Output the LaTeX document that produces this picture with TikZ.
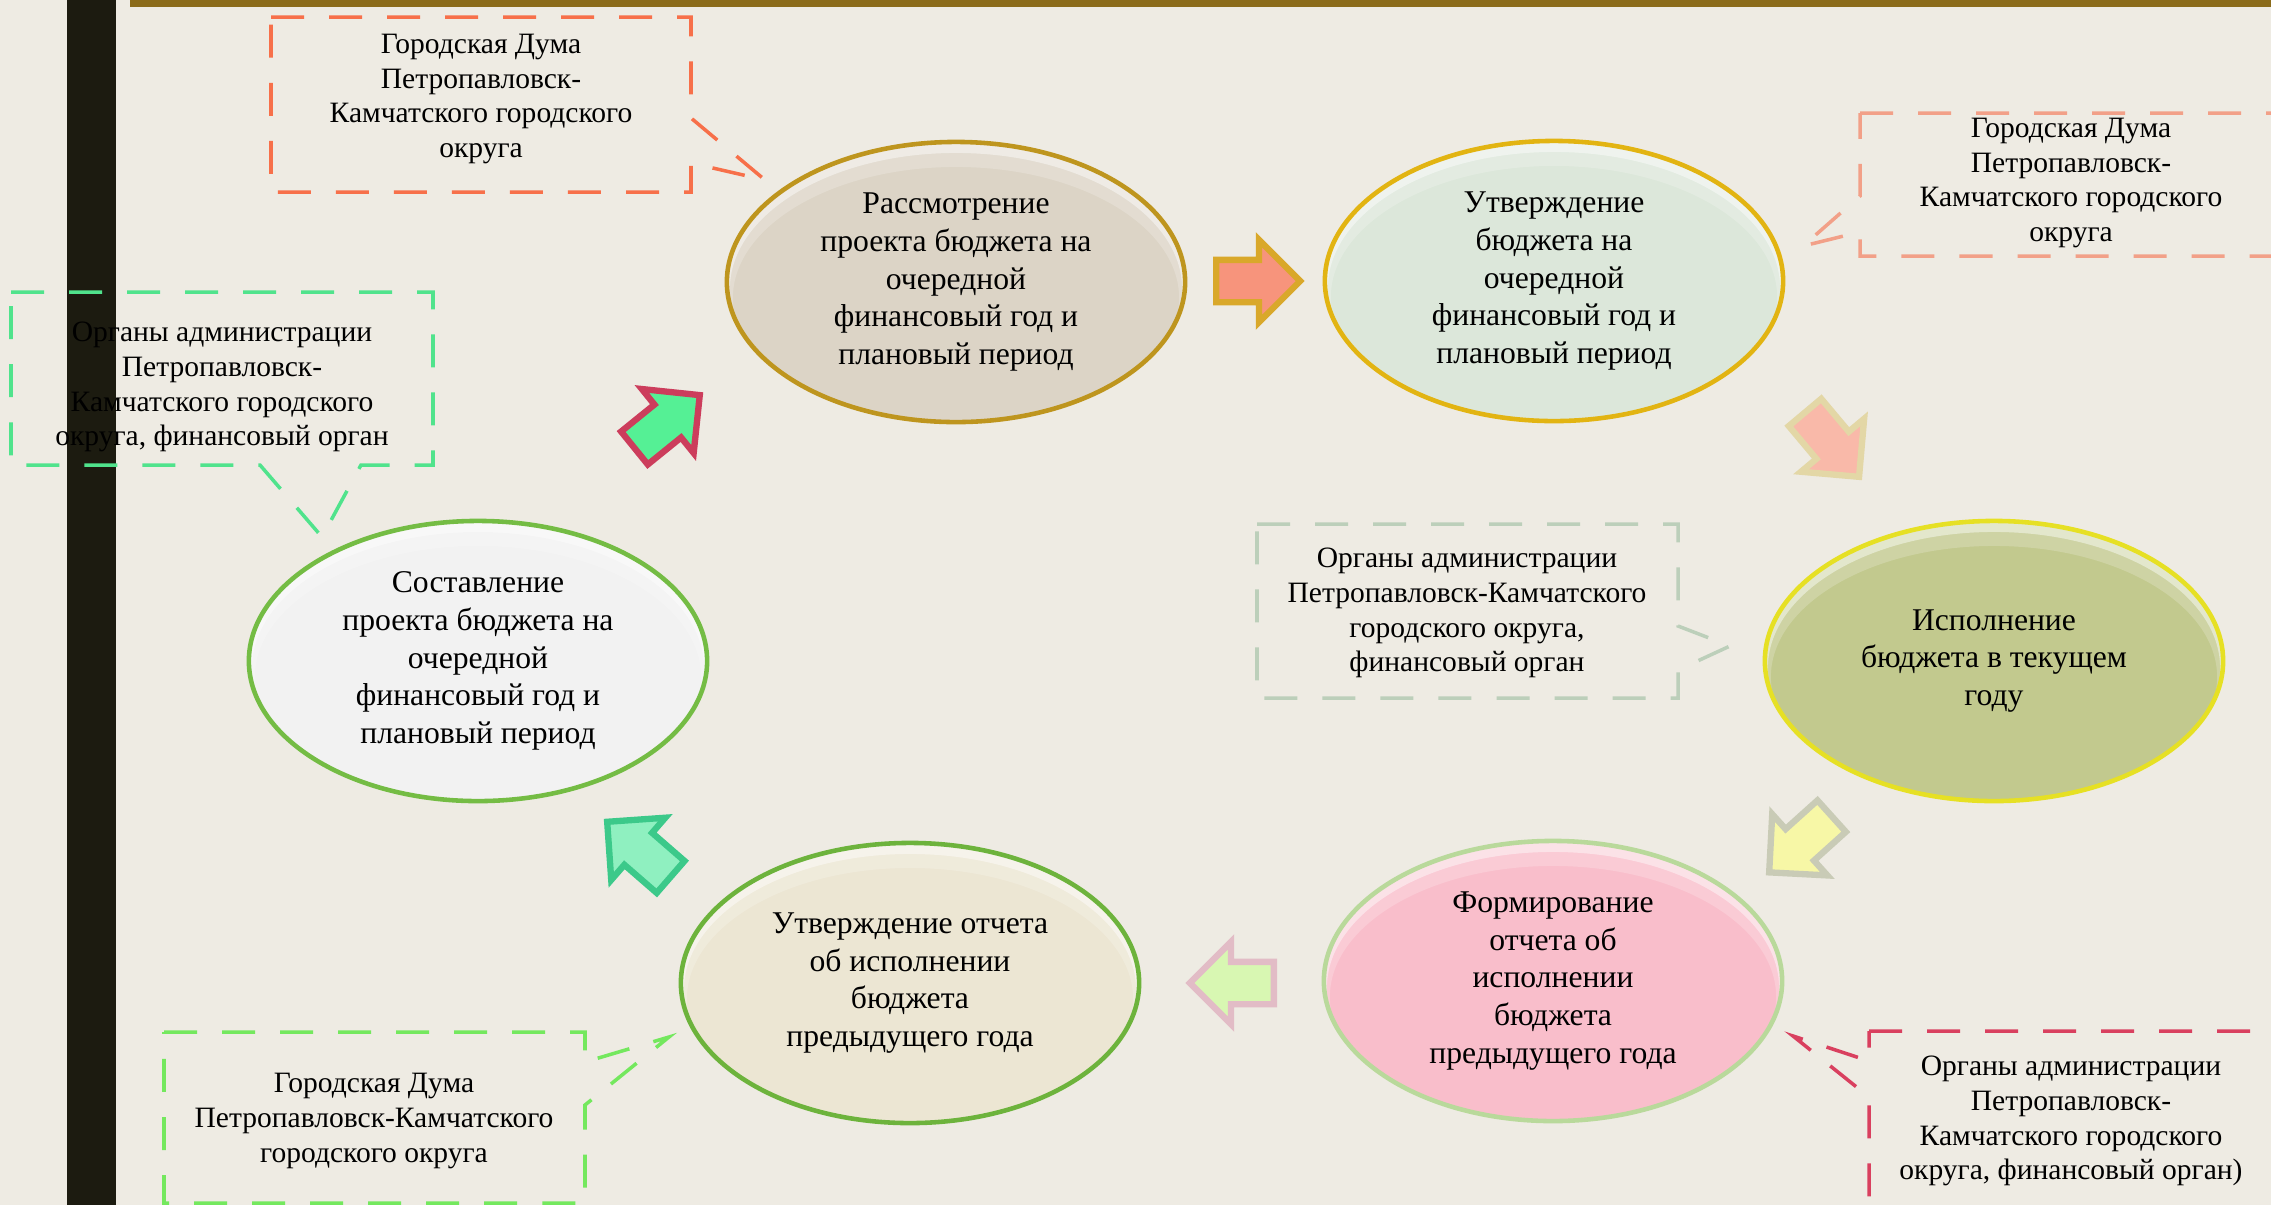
\documentclass[tikz,border=0pt]{standalone}
\usepackage{fontspec}
\setmainfont{Liberation Serif}
\newfontfamily\cyclefont{Liberation Serif}
\usepackage{tikz}
\usetikzlibrary{shapes.geometric, shapes.arrows}
\definecolor{bgcol}{HTML}{EEEBE3}
\definecolor{barcol}{HTML}{1C1B10}
\definecolor{topbar}{HTML}{8B6B1A}
% stages
\definecolor{eonefill}{HTML}{DCD4C6}  \definecolor{eoneline}{HTML}{BE951E}
\definecolor{etwofill}{HTML}{DCE7DA}  \definecolor{etwoline}{HTML}{E2B412}
\definecolor{ethreefill}{HTML}{C2C98E}\definecolor{ethreeline}{HTML}{E6E024}
\definecolor{efourfill}{HTML}{F9BECB} \definecolor{efourline}{HTML}{B9D99B}
\definecolor{efivefill}{HTML}{ECE6D3} \definecolor{efiveline}{HTML}{6DB33C}
\definecolor{esixfill}{HTML}{F2F2F2}  \definecolor{esixline}{HTML}{74BC44}
% notes
\definecolor{cone}{HTML}{F7704A}
\definecolor{ctwo}{HTML}{F2A088}
\definecolor{cthree}{HTML}{50E38C}
\definecolor{cfour}{HTML}{BCCFBA}
\definecolor{cfive}{HTML}{D9405F}
\definecolor{csix}{HTML}{74E85E}
% arrows
\definecolor{aonefill}{HTML}{F7947C}  \definecolor{aoneline}{HTML}{D9A82A}
\definecolor{atwofill}{HTML}{F9B9A9}  \definecolor{atwoline}{HTML}{E3D7A6}
\definecolor{athreefill}{HTML}{F7F7A6}\definecolor{athreeline}{HTML}{C9CBB6}
\definecolor{afourfill}{HTML}{D8F7B2} \definecolor{afourline}{HTML}{E2BCC6}
\definecolor{afivefill}{HTML}{8FF0C0} \definecolor{afiveline}{HTML}{3CC98A}
\definecolor{asixfill}{HTML}{55F095}  \definecolor{asixline}{HTML}{CC3D5C}

\begin{document}
\begin{tikzpicture}[x=0.01cm, y=-0.01cm,
  stage/.style={ellipse, minimum width=4.58cm, minimum height=2.80cm, inner sep=0pt,
    line width=1.3pt, align=center, font=\cyclefont\fontsize{9}{10.7}\selectfont,
    path picture={
      \fill[white, opacity=.45, even odd rule] (path picture bounding box.center) ellipse [x radius=2.3cm, y radius=1.41cm]
        ([yshift=-0.07cm]path picture bounding box.center) ellipse [x radius=2.26cm, y radius=1.36cm];
      \fill[white, opacity=.2, even odd rule] (path picture bounding box.center) ellipse [x radius=2.3cm, y radius=1.41cm]
        ([yshift=-0.16cm]path picture bounding box.center) ellipse [x radius=2.23cm, y radius=1.31cm];}},
  note/.style={align=center, inner sep=0pt, font=\cyclefont\fontsize{8.4}{9.9}\selectfont},
  notebox/.style={line width=1pt, dash pattern=on 0.33cm off 0.25cm},
  blockarrow/.style={single arrow, single arrow head extend=0.2cm, minimum width=0.8cm,
    minimum height=0.84cm, inner xsep=0pt, inner ysep=0.18cm, line width=1.8pt, line join=miter, anchor=tail}]

\useasboundingbox (0,0) rectangle (2271,1205);
\clip (0,0) rectangle (2271,1205);
\fill[bgcol] (0,0) rectangle (2271,1205);
\fill[topbar] (130,0) rectangle (2271,7);
\fill[barcol] (67,0) rectangle (116,1205);

% who does what
\coordinate (t1) at (765,180);
\coordinate (t2) at (1803,246);
\coordinate (t3) at (322,537);
\coordinate (t4) at (1730,646);
\coordinate (t5) at (1793,1036);
\coordinate (t6) at (669,1037);
\draw[notebox, cone] (271,17) -- (691,17) -- (691,118) -- (t1) -- (691,163) -- (691,192) -- (271,192) -- cycle;
\draw[notebox, ctwo] (1860,113) -- (2290,113) -- (2290,256) -- (1860,256) -- (1860,232) -- (t2) -- (1860,196) -- cycle;
\draw[notebox, cthree] (11,292) -- (433,292) -- (433,465) -- (361,465) -- (t3) -- (260,465) -- (11,465) -- cycle;
\draw[notebox, cfour] (1257,524) -- (1678,524) -- (1678,626) -- (t4) -- (1678,670) -- (1678,698) -- (1257,698) -- cycle;
\draw[notebox, cfive] (1869,1031) -- (2290,1031) -- (2290,1215) -- (1869,1215) -- (1869,1097) -- (t5) -- (1869,1061) -- cycle;
\draw[notebox, csix] (164,1032) -- (585,1032) -- (585,1062) -- (t6) -- (585,1105) -- (585,1203) -- (164,1203) -- cycle;

\node[note] (c1) at (481,99) {Городская Дума\\Петропавловск-\\Камчатского городского\\округа};
\node[note] (c2) at (2071,183) {Городская Дума\\Петропавловск-\\Камчатского городского\\округа};
\node[note] (c3) at (222,387) {Органы администрации\\Петропавловск-\\Камчатского городского\\округа, финансовый орган};
\node[note] (c4) at (1467,613) {Органы администрации\\Петропавловск-Камчатского\\городского округа,\\финансовый орган};
\node[note] (c5) at (2071,1121) {Органы администрации\\Петропавловск-\\Камчатского городского\\округа, финансовый орган)};
\node[note] (c6) at (374,1121) {Городская Дума\\Петропавловск-Камчатского\\городского округа};

% budget cycle
\node[stage, fill=eonefill, draw=eoneline] (e1) at (956,282) {Рассмотрение\\проекта бюджета на\\очередной\\финансовый год и\\плановый период};
\node[stage, fill=etwofill, draw=etwoline] (e2) at (1554,281) {Утверждение\\бюджета на\\очередной\\финансовый год и\\плановый период};
\node[stage, fill=ethreefill, draw=ethreeline] (e3) at (1994,661) {Исполнение\\бюджета в текущем\\году};
\node[stage, fill=efourfill, draw=efourline] (e4) at (1553,981) {Формирование\\отчета об\\исполнении\\бюджета\\предыдущего года};
\node[stage, fill=efivefill, draw=efiveline] (e5) at (910,983) {Утверждение отчета\\об исполнении\\бюджета\\предыдущего года};
\node[stage, fill=esixfill, draw=esixline] (e6) at (478,661) {Составление\\проекта бюджета на\\очередной\\финансовый год и\\плановый период};

\node[blockarrow, fill=aonefill, draw=aoneline] (a1) at (1213,281) {};
\node[blockarrow, fill=atwofill, draw=atwoline, rotate=-50] (a2) at (1803,410) {};
\node[blockarrow, fill=athreefill, draw=athreeline, rotate=-138] (a3) at (1834,814) {};
\node[blockarrow, fill=afourfill, draw=afourline, rotate=180] (a4) at (1277,983) {};
\node[blockarrow, fill=afivefill, draw=afiveline, rotate=139] (a5) at (673,879) {};
\node[blockarrow, fill=asixfill, draw=asixline, rotate=39] (a6) at (632,450) {};

\end{tikzpicture}
\end{document}
